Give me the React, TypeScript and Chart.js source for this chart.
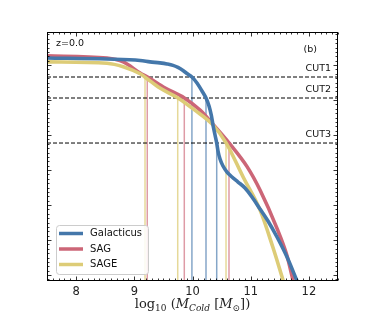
import React, { useEffect, useRef } from 'react';
import { Chart, registerables } from 'chart.js';
Chart.register(...registerables);

// axis ranges
const xMin = 7.5;
const xMax = 12.5;
const yMin = -7.171;
const yMax = -0.057;
const xTickLabels = [8, 9, 10, 11, 12];

// series: log10 cumulative density vs log10 M_cold
const galX = [7.5, 8.53, 9.1, 9.27, 9.44, 9.56, 9.665, 9.75, 9.837, 9.905, 9.99, 10.077, 10.163, 10.232, 10.284, 10.326, 10.352, 10.387, 10.416, 10.438, 10.473, 10.524, 10.593, 10.679, 10.782, 10.902, 11.022, 11.16, 11.297, 11.452, 11.624, 11.796];
const galY = [-0.8, -0.83, -0.87, -0.91, -0.94, -0.97, -1.01, -1.07, -1.157, -1.243, -1.343, -1.514, -1.743, -1.943, -2.17, -2.457, -2.714, -3.0, -3.229, -3.457, -3.686, -3.886, -4.057, -4.2, -4.343, -4.514, -4.771, -5.114, -5.457, -5.914, -6.486, -7.171];
const sagX = [7.5, 8.53, 8.81, 9.1, 9.22, 9.53, 9.86, 10.13, 10.35, 10.63, 10.94, 11.16, 11.45, 11.62, 11.73];
const sagY = [-0.74, -0.8, -0.91, -1.23, -1.34, -1.66, -1.94, -2.29, -2.69, -3.23, -3.91, -4.57, -5.66, -6.43, -7.17];
const sageX = [7.5, 8.53, 8.81, 9.1, 9.18, 9.44, 9.75, 10.04, 10.35, 10.58, 10.87, 11.16, 11.38, 11.56];
const sageY = [-0.91, -0.95, -1.05, -1.25, -1.34, -1.66, -1.94, -2.29, -2.71, -3.23, -4.2, -5.14, -6.2, -7.17];

// cuts
const cutLabels = ['CUT1', 'CUT2', 'CUT3'];
const cutLevels = [-1.343, -1.943, -3.229];
const galCutX = [9.99, 10.232, 10.416];
const sagCutX = [9.223, 9.859, 10.627];
const sageCutX = [9.184, 9.746, 10.576];

const seriesNames = ['Galacticus', 'SAG', 'SAGE'];
const seriesColors = ['#4477AA', '#CC6677', '#DDCC77'];
const seriesLight = ['rgba(68,119,170,0.65)', 'rgba(204,102,119,0.65)', 'rgba(221,204,119,0.75)'];

const zip = (xs: number[], ys: number[]) => xs.map((v, i) => ({ x: v, y: ys[i] }));

const overlay = {
  id: 'overlay',
  afterDraw(chart: any) {
    const { ctx, chartArea: a, scales } = chart;
    const xs = scales.x;
    const ys = scales.y;
    ctx.save();
    // frame
    ctx.strokeStyle = '#000';
    ctx.lineWidth = 1;
    const L = Math.round(a.left) + 0.5, R = Math.round(a.right) - 0.5;
    const T = Math.round(a.top) + 0.5, B = Math.round(a.bottom) - 0.5;
    ctx.strokeRect(L, T, R - L, B - T);
    // x ticks
    ctx.lineWidth = 0.8;
    for (let i = 0; i <= 50; i++) {
      const v = xMin + i * 0.1;
      const major = Math.abs(v - Math.round(v)) < 1e-6;
      const len = major ? 4 : 2;
      const px = Math.round(xs.getPixelForValue(v)) + 0.5;
      ctx.beginPath();
      ctx.moveTo(px, B); ctx.lineTo(px, B - len);
      ctx.moveTo(px, T); ctx.lineTo(px, T + len);
      ctx.stroke();
    }
    // y ticks
    for (let k = -8; k <= 0; k++) {
      for (let j = 0; j < 8; j++) {
        const v = k + j / 8;
        if (v < yMin || v > yMax) continue;
        const len = j === 0 ? 4 : 2;
        const py = Math.round(ys.getPixelForValue(v)) + 0.5;
        ctx.beginPath();
        ctx.moveTo(L, py); ctx.lineTo(L + len, py);
        ctx.moveTo(R, py); ctx.lineTo(R - len, py);
        ctx.stroke();
      }
    }
    // x tick labels
    ctx.fillStyle = '#222';
    ctx.font = '11.5px "DejaVu Sans"';
    ctx.textAlign = 'center';
    ctx.textBaseline = 'middle';
    xTickLabels.forEach((v) => {
      ctx.fillText(String(v), xs.getPixelForValue(v), a.bottom + 11);
    });
    // x label (math-like)
    const big = '13px "DejaVu Serif"';
    const bigI = 'italic 13px "DejaVu Serif"';
    const small = '9px "DejaVu Serif"';
    const smallI = 'italic 9px "DejaVu Serif"';
    const segs: [string, string, number][] = [
      ['log', big, 0], ['10', small, 3], [' (', big, 0], ['M', bigI, 0], ['Cold', smallI, 3],
      [' [', big, 0], ['M', bigI, 0], ['\u2299', small, 3], ['])', big, 0],
    ];
    let total = 0;
    segs.forEach(([t, f]) => { ctx.font = f; total += ctx.measureText(t).width; });
    let cx = (a.left + a.right) / 2 - total / 2;
    ctx.textAlign = 'left';
    ctx.textBaseline = 'alphabetic';
    segs.forEach(([t, f, dy]) => {
      ctx.font = f;
      ctx.fillText(t, cx, 308 + dy);
      cx += ctx.measureText(t).width;
    });
    // annotations
    ctx.fillStyle = '#111';
    ctx.font = '9.5px "DejaVu Sans"';
    ctx.textBaseline = 'middle';
    ctx.textAlign = 'left';
    ctx.fillText('z=0.0', a.left + 9, a.top + 12);
    ctx.textAlign = 'right';
    ctx.fillText('(b)', a.right - 21, a.top + 18);
    cutLabels.forEach((lab, i) => {
      ctx.fillText(lab, a.right - 7, ys.getPixelForValue(cutLevels[i]) - 8);
    });
    // legend
    const lx = a.left + 9, ly = a.bottom - 56, lw = 92, lh = 49;
    ctx.beginPath();
    ctx.roundRect(lx + 0.5, ly + 0.5, lw, lh, 3);
    ctx.fillStyle = 'rgba(255,255,255,0.85)';
    ctx.fill();
    ctx.strokeStyle = '#cccccc';
    ctx.lineWidth = 1;
    ctx.stroke();
    ctx.textAlign = 'left';
    ctx.font = '10px "DejaVu Sans"';
    seriesNames.forEach((n, i) => {
      const yy = ly + 8.5 + i * 15.5;
      ctx.strokeStyle = seriesColors[i];
      ctx.lineWidth = 3.5;
      ctx.beginPath();
      ctx.moveTo(lx + 3, yy); ctx.lineTo(lx + 27, yy);
      ctx.stroke();
      ctx.fillStyle = '#111';
      ctx.fillText(n, lx + 34, yy);
    });
    ctx.restore();
  },
};

export default function App() {
  const ref = useRef<HTMLCanvasElement>(null);
  useEffect(() => {
    document.body.style.margin = '0';
    const canvas = ref.current!;
    const curves = [
      { label: seriesNames[0], data: zip(galX, galY), color: seriesColors[0], order: 1 },
      { label: seriesNames[2], data: zip(sageX, sageY), color: seriesColors[2], order: 2 },
      { label: seriesNames[1], data: zip(sagX, sagY), color: seriesColors[1], order: 3 },
    ].map((d) => ({
      label: d.label,
      data: d.data,
      borderColor: d.color,
      borderWidth: 3.6,
      pointRadius: 0,
      cubicInterpolationMode: 'monotone' as const,
      order: d.order,
      borderCapStyle: 'round' as const,
      borderJoinStyle: 'round' as const,
    }));
    const dashed = cutLevels.map((c, i) => ({
      label: cutLabels[i],
      data: [{ x: xMin, y: c }, { x: xMax, y: c }],
      borderColor: '#000',
      borderWidth: 1,
      borderDash: [4, 2],
      pointRadius: 0,
      order: 4,
    }));
    const drops: any[] = [];
    [galCutX, sagCutX, sageCutX].forEach((arr, s) => {
      arr.forEach((cx, i) => {
        drops.push({
          label: seriesNames[s] + ' ' + cutLabels[i],
          data: [{ x: cx, y: yMin }, { x: cx, y: cutLevels[i] }],
          borderColor: seriesLight[s],
          borderWidth: 1.5,
          pointRadius: 0,
          order: 5,
        });
      });
    });
    const chart = new Chart(canvas, {
      type: 'line',
      data: { datasets: [...curves, ...dashed, ...drops] as any },
      options: {
        animation: false,
        responsive: false,
        layout: { padding: { left: 47, top: 32, right: 38, bottom: 32 } },
        plugins: { legend: { display: false }, tooltip: { enabled: false } },
        scales: {
          x: { type: 'linear', min: xMin, max: xMax, display: false },
          y: { type: 'linear', min: yMin, max: yMax, display: false },
        },
      },
      plugins: [overlay],
    });
    return () => chart.destroy();
  }, []);
  return (
    <div style={{ width: 376, height: 313 }}>
      <canvas ref={ref} width={376} height={313} style={{ width: 376, height: 313 }} />
    </div>
  );
}
